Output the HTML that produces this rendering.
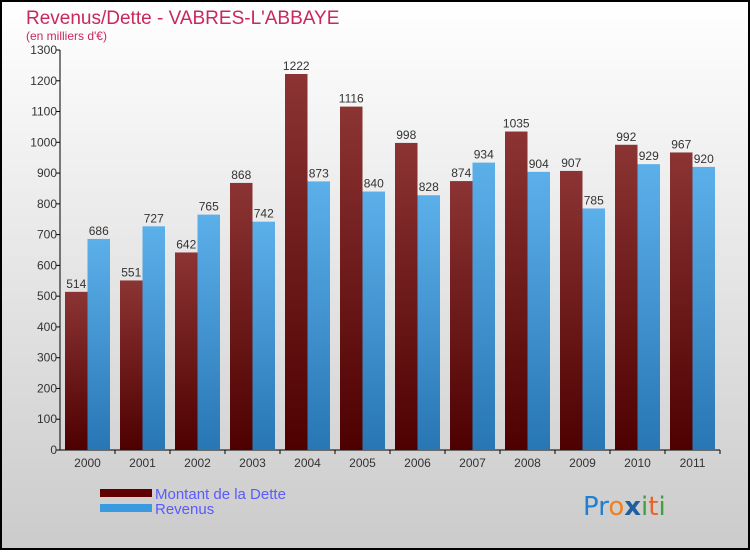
<!DOCTYPE html>
<html><head><meta charset="utf-8"><style>
html,body{margin:0;padding:0;}
body{width:750px;height:550px;overflow:hidden;font-family:"Liberation Sans",sans-serif;}
</style></head><body>
<svg width="750" height="550" xmlns="http://www.w3.org/2000/svg">
<defs>
<linearGradient id="bg" x1="0" y1="0" x2="0" y2="1"><stop offset="0" stop-color="#ffffff"/><stop offset="1" stop-color="#cbcbcb"/></linearGradient>
<linearGradient id="gd" x1="0" y1="0" x2="0" y2="1"><stop offset="0" stop-color="#8c3434"/><stop offset="1" stop-color="#4e0000"/></linearGradient>
<linearGradient id="gr" x1="0" y1="0" x2="0" y2="1"><stop offset="0" stop-color="#5cb0ea"/><stop offset="1" stop-color="#2876b4"/></linearGradient>
</defs>
<rect x="1" y="1" width="748" height="548" fill="url(#bg)" stroke="#000" stroke-width="2"/>
<text x="26" y="24" font-size="19" fill="#c8285a">Revenus/Dette - VABRES-L'ABBAYE</text>
<text x="26" y="40" font-size="12" fill="#c8285a">(en milliers d'€)</text>
<g id="axes"></g>
<g id="bars"></g>
<rect x="100" y="489" width="52" height="8" fill="#600000"/>
<text x="155" y="499" font-size="15" fill="#5a5aff">Montant de la Dette</text>
<rect x="100" y="504" width="52" height="8" fill="#3a9ae0"/>
<text x="155" y="514" font-size="15" fill="#5a5aff">Revenus</text>
<g font-size="26" font-family="'DejaVu Sans',sans-serif">
<text x="583" y="515"><tspan fill="#1f7fd0">Pr</tspan><tspan fill="#f08020">o</tspan><tspan fill="#1f5fa0" font-weight="bold">x</tspan><tspan fill="#40a040">i</tspan><tspan fill="#f06020">t</tspan><tspan fill="#40a040">i</tspan></text>
</g>
</svg>
<script>
const categories=["2000","2001","2002","2003","2004","2005","2006","2007","2008","2009","2010","2011"];
const dette=[514,551,642,868,1222,1116,998,874,1035,907,992,967];
const revenus=[686,727,765,742,873,840,828,934,904,785,929,920];
const yTicks=[0,100,200,300,400,500,600,700,800,900,1000,1100,1200,1300];
const NS="http://www.w3.org/2000/svg";
const x0=60,x1=720,y0=450,yTop=50,yMax=1300;
const step=(x1-x0)/categories.length;
function yS(v){return y0-(v/yMax)*(y0-yTop);}
function xS(i){return x0+i*step;}
function mk(t,a,p){const e=document.createElementNS(NS,t);for(const k in a)e.setAttribute(k,a[k]);p.appendChild(e);return e;}
const ax=document.getElementById('axes'),bg=document.getElementById('bars');
const yl=mk('line',{x1:x0,y1:yTop,x2:x0,y2:y0,stroke:'#000'},ax);


const xl=mk('line',{x1:x0,y1:y0,x2:x1,y2:y0,stroke:'#000'},ax);


yTicks.forEach(v=>{
 mk('line',{x1:x0-4,y1:yS(v),x2:x0,y2:yS(v),stroke:'#000'},ax);
 const t=mk('text',{x:x0-3,y:yS(v)+4,'font-size':12,fill:'#333','text-anchor':'end'},ax);
 t.textContent=v;
 
 
});
categories.forEach((c,i)=>{
 const gx=xS(i)+5,bw=22.5;
 mk('line',{x1:xS(i)+step,y1:y0,x2:xS(i)+step,y2:y0+4,stroke:'#000'},ax);
 const t=mk('text',{x:gx+bw,y:y0+17,'font-size':12,fill:'#333','text-anchor':'middle'},ax);
 t.textContent=c;
 
 
 const b1=mk('rect',{x:gx,y:yS(dette[i]),width:bw,height:y0-yS(dette[i]),fill:'url(#gd)'},bg);
 
 
 const b2=mk('rect',{x:gx+bw,y:yS(revenus[i]),width:bw,height:y0-yS(revenus[i]),fill:'url(#gr)'},bg);
 
 
 const l1=mk('text',{x:gx+bw/2,y:yS(dette[i])-4,'font-size':12,fill:'#333','text-anchor':'middle'},bg);
 l1.textContent=dette[i];
 
 
 const l2=mk('text',{x:gx+bw*1.5,y:yS(revenus[i])-4,'font-size':12,fill:'#333','text-anchor':'middle'},bg);
 l2.textContent=revenus[i];
 
 
});
</script>
</body></html>
